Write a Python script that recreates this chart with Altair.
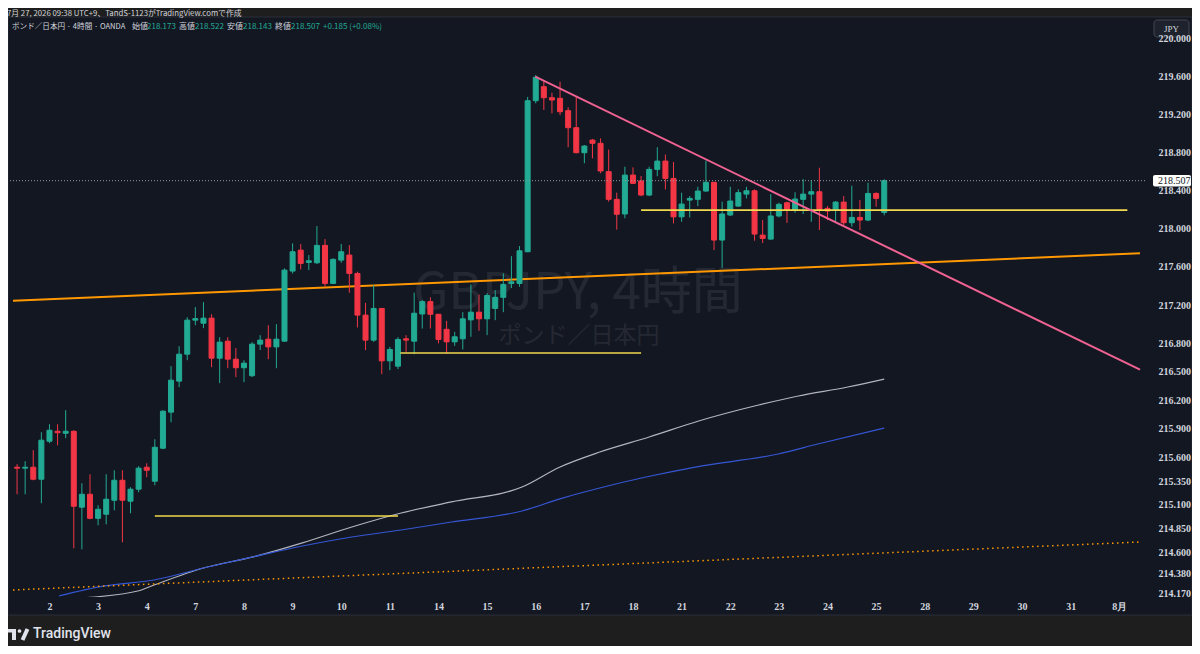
import altair as alt
import pandas as pd

# ---------------- data ----------------
opens = [215.495, 215.485, 215.495, 215.369, 215.768, 215.873, 215.852, 215.873, 215.075, 215.211,
         214.958, 215.001, 215.148, 215.358, 215.138, 215.264, 215.495, 215.348, 215.695, 216.074,
         216.400, 216.683, 217.041, 217.009, 217.062, 216.641, 216.820, 216.631, 216.541, 216.457,
         216.789, 216.841, 216.760, 216.820, 217.557, 217.777, 217.648, 217.644, 217.827, 217.427,
         217.672, 217.725, 217.532, 217.094, 216.831, 217.164, 216.613, 216.557, 216.845, 216.820,
         217.106, 217.236, 217.103, 216.945, 216.813, 216.845, 217.044, 217.125, 217.055, 217.164,
         217.281, 217.427, 217.427, 217.760, 219.348, 219.495, 219.379, 219.373, 219.243, 219.064,
         218.801, 218.934, 218.900, 218.602, 218.311, 218.157, 218.566, 218.504, 218.356, 218.626,
         218.713, 218.531, 218.127, 218.303, 218.311, 218.398, 218.490, 217.883, 218.146, 218.240,
         218.366, 218.401, 217.935, 217.893, 218.136, 218.275, 218.198, 218.311, 218.366, 218.391,
         218.216, 218.198, 218.282, 218.065, 218.121, 218.093, 218.373, 218.173]
highs = [215.527, 215.558, 215.674, 215.863, 215.947, 215.947, 216.095, 215.884, 215.327, 215.421,
         215.095, 215.421, 215.463, 215.463, 215.285, 215.506, 215.537, 215.789, 216.095, 216.557,
         216.767, 217.072, 217.178, 217.230, 217.104, 216.862, 216.862, 216.747, 216.620, 216.810,
         216.883, 216.988, 216.999, 217.585, 217.848, 217.841, 217.725, 218.030, 217.893, 217.690,
         217.841, 217.830, 217.550, 217.223, 217.409, 217.167, 216.760, 216.862, 216.883, 217.330,
         217.252, 217.281, 217.106, 217.034, 216.918, 217.125, 217.416, 217.310, 217.325, 217.357,
         217.533, 217.714, 217.820, 219.387, 219.618, 219.558, 219.432, 219.547, 219.278, 219.390,
         218.882, 218.945, 218.952, 218.834, 218.381, 218.654, 218.647, 218.556, 218.654, 218.858,
         218.782, 218.703, 218.381, 218.345, 218.443, 218.717, 218.490, 218.286, 218.443, 218.416,
         218.443, 218.416, 218.093, 218.366, 218.275, 218.286, 218.385, 218.524, 218.514, 218.643,
         218.240, 218.293, 218.345, 218.454, 218.303, 218.485, 218.385, 218.522]
lows = [215.211, 215.211, 215.358, 215.117, 215.747, 215.726, 215.800, 214.643, 214.632, 214.948,
        214.885, 214.895, 215.043, 214.706, 215.011, 215.232, 215.390, 215.306, 215.684, 215.968,
        216.337, 216.620, 216.988, 216.957, 216.547, 216.379, 216.536, 216.442, 216.389, 216.442,
        216.726, 216.631, 216.536, 216.817, 217.532, 217.574, 217.567, 217.630, 217.392, 217.420,
        217.644, 217.329, 216.964, 216.726, 216.813, 216.473, 216.515, 216.526, 216.708, 216.683,
        216.953, 216.953, 216.797, 216.690, 216.771, 216.733, 216.866, 216.929, 216.883, 217.041,
        217.125, 217.378, 217.392, 217.756, 219.320, 219.250, 219.215, 219.197, 218.858, 218.795,
        218.690, 218.742, 218.585, 218.286, 217.992, 218.112, 218.472, 218.345, 218.345, 218.554,
        218.415, 218.058, 218.075, 218.121, 218.240, 218.391, 217.777, 217.590, 218.136, 218.233,
        218.321, 217.876, 217.851, 217.890, 218.121, 218.062, 218.170, 218.157, 218.075, 217.988,
        218.093, 218.075, 218.040, 218.023, 217.988, 218.082, 218.233, 218.143]
closes = [215.485, 215.495, 215.369, 215.779, 215.884, 215.858, 215.873, 215.085, 215.211, 214.958,
          215.053, 215.159, 215.358, 215.148, 215.264, 215.485, 215.463, 215.705, 216.084, 216.410,
          216.683, 217.041, 217.057, 217.062, 216.641, 216.810, 216.631, 216.541, 216.589, 216.789,
          216.831, 216.760, 216.841, 217.567, 217.760, 217.637, 217.665, 217.827, 217.427, 217.680,
          217.760, 217.532, 217.094, 216.831, 217.164, 216.613, 216.733, 216.838, 216.831, 217.114,
          217.236, 217.103, 216.838, 216.813, 216.866, 217.055, 217.125, 217.055, 217.300, 217.281,
          217.417, 217.444, 217.770, 219.348, 219.594, 219.379, 219.355, 219.232, 219.064, 218.801,
          218.871, 218.900, 218.609, 218.311, 218.154, 218.566, 218.479, 218.356, 218.626, 218.713,
          218.531, 218.127, 218.261, 218.321, 218.398, 218.490, 217.883, 218.157, 218.293, 218.381,
          218.401, 217.946, 217.900, 218.136, 218.258, 218.198, 218.314, 218.366, 218.391, 218.205,
          218.188, 218.282, 218.065, 218.121, 218.093, 218.373, 218.321, 218.507]

# moving averages (bar index, price)
ma_slow_idx = [7.7, 14.9, 16.9, 23.0, 29.1, 35.2, 41.3, 47.4, 53.6, 62.3, 67.0, 71.9, 78.0, 84.1, 91.5, 96.4, 102.5, 107.0]
ma_slow_val = [214.12, 214.194, 214.257, 214.436, 214.552, 214.700, 214.867, 215.014, 215.130, 215.287,
               215.498, 215.655, 215.813, 215.981, 216.149, 216.244, 216.338, 216.422]
ma_blue_idx = [5.2, 10.8, 16.9, 23.0, 29.1, 35.2, 41.3, 47.4, 53.6, 62.3, 67.3, 71.9, 77.6, 83.7, 93.9, 98.8, 107.0]
ma_blue_val = [214.142, 214.247, 214.310, 214.436, 214.552, 214.667, 214.762, 214.835, 214.919, 215.035,
               215.171, 215.277, 215.392, 215.497, 215.634, 215.739, 215.907]

# drawn lines (bar index, price)
orange_idx = [-0.5, 138.56]
orange_val = [217.246, 217.744]
orange_dot_idx = [-0.5, 138.56]
orange_dot_val = [214.205, 214.709]
pink_idx = [63.95, 138.56]
pink_val = [219.600, 216.52]
yellow_start = [17.0, 47.3, 77.0]
yellow_end = [47.0, 77.0, 137.0]
yellow_val = [214.982, 216.696, 218.198]

day_ticks = [4, 10, 16, 22, 28, 34, 40, 46, 52, 58, 64, 70, 76, 82, 88, 94, 100, 106, 112, 118, 124, 130, 136]
day_labels = ["2", "3", "4", "7", "8", "9", "10", "11", "14", "15", "16", "17", "18", "21", "22", "23",
              "24", "25", "28", "29", "30", "31", "8月"]
price_ticks = [214.17, 214.38, 214.6, 214.85, 215.1, 215.35, 215.6, 215.9, 216.2, 216.5, 216.8,
               217.2, 217.6, 218.0, 218.4, 218.8, 219.2, 219.6, 220.0]

title_text = "7月 27, 2026 09:38 UTC+9、TandS-1123がTradingView.comで作成"
legend_parts = ["ポンド／日本円 · 4時間 · OANDA", "始値", "218.173", "高値", "218.522", "安値", "218.143",
                "終値", "218.507", "+0.185 (+0.08%)"]
legend_kind = ["label", "label", "value", "label", "value", "label", "value", "label", "value", "value"]
legend_x = [4, 124, 139, 171, 187, 219, 235, 267, 283, 315]

# ---------------- styling ----------------
PANE = "#131722"
OUTER = "#1e1e1e"
UP = "#22ab94"
DOWN = "#f23645"
TXT = "#d1d4dc"
LOGO = "#e0e3eb"
AXFONT = "Liberation Sans Narrow"
JPFONT = "Noto Sans CJK JP"

W, H = 1137, 580

n = len(opens)
candles = pd.DataFrame({"i": list(range(n)), "open": opens, "high": highs, "low": lows, "close": closes})
candles["dir"] = ["up" if c >= o else "down" for o, c in zip(opens, closes)]

label_expr = " : ".join([f"datum.value == {t} ? '{l}'" for t, l in zip(day_ticks, day_labels)]) + " : ''"

xs = alt.Scale(domain=[-0.5, 138.56], nice=False, zero=False)
ys = alt.Scale(domain=[214.131, 220.2275], nice=False, zero=False)
xaxis = alt.Axis(values=day_ticks, labelExpr=label_expr, grid=False, ticks=False, domain=False,
                 labelColor=TXT, labelFont=AXFONT, labelFontSize=10, labelFontWeight="bold",
                 labelPadding=4, title=None, zindex=1, labelOverlap=False, labelFlush=False)
yaxis = alt.Axis(values=price_ticks, format=".3f", orient="right", grid=False, ticks=False, domain=False,
                 labelColor=TXT, labelFont=AXFONT, labelFontSize=10, labelFontWeight="bold",
                 labelPadding=13, labelAlign="left",
                 title=None, zindex=1, labelOverlap=False, labelFlush=False)
cscale = alt.Scale(domain=["up", "down"], range=[UP, DOWN])


def X(field):
    return alt.X(field, scale=xs, axis=xaxis)


def Y(field):
    return alt.Y(field, scale=ys, axis=yaxis)


one = pd.DataFrame({"a": [0]})

pane = alt.Chart(one).mark_rect(color=PANE, stroke="#2a2e39", strokeWidth=1).encode(
    x=alt.value(0), x2=alt.value(1184), y=alt.value(0), y2=alt.value(598))

watermark = alt.Chart(one).mark_text(text="GBPJPY, 4時間", font=JPFONT, fontSize=51, color="#ffffff",
                                     opacity=0.07, align="center", baseline="middle").encode(
    x=alt.value(570), y=alt.value(277))
watermark2 = alt.Chart(one).mark_text(text="ポンド／日本円", font=JPFONT, fontSize=23, color="#ffffff",
                                      opacity=0.07, align="center", baseline="middle").encode(
    x=alt.value(571), y=alt.value(319))

wicks = alt.Chart(candles).mark_rule(strokeWidth=1).encode(
    x=X("i:Q"), y=Y("low:Q"), y2="high:Q",
    color=alt.Color("dir:N", scale=cscale, legend=None))
bodies = alt.Chart(candles).mark_bar(size=5, strokeWidth=1).encode(
    x=X("i:Q"), y=Y("open:Q"), y2="close:Q",
    color=alt.Color("dir:N", scale=cscale, legend=None),
    stroke=alt.Stroke("dir:N", scale=cscale, legend=None))


def line(idx, val, **kw):
    df = pd.DataFrame({"i": idx, "p": val})
    return alt.Chart(df).mark_line(clip=True, **kw).encode(x=X("i:Q"), y=Y("p:Q"))


ma_slow = line(ma_slow_idx, ma_slow_val, color="#b2b5be", strokeWidth=1.2, interpolate="monotone")
ma_blue = line(ma_blue_idx, ma_blue_val, color="#3556d4", strokeWidth=1.2, interpolate="monotone")
orange = line(orange_idx, orange_val, color="#ff9800", strokeWidth=2)
orange_dot = line(orange_dot_idx, orange_dot_val, color="#ff9800", strokeWidth=1.5, strokeDash=[1.5, 3.5])
pink = line(pink_idx, pink_val, color="#f06292", strokeWidth=2)

ydf = pd.DataFrame({"s": yellow_start, "e": yellow_end, "p": yellow_val})
yellow = alt.Chart(ydf).mark_rule(color="#f2d94e", strokeWidth=1.6).encode(
    x=X("s:Q"), x2="e:Q", y=Y("p:Q"))

last = closes[-1]
pdf = pd.DataFrame({"p": [last], "top": [last + 0.06], "bot": [last - 0.06], "t": [f"{last:.3f}"]})
price_line = alt.Chart(pdf).mark_rule(color="#9598a1", strokeDash=[1, 2], strokeWidth=1).encode(
    y=Y("p:Q"))
price_box = alt.Chart(pdf).mark_rect(color="#ffffff", cornerRadius=2).encode(
    x=alt.value(1145), x2=alt.value(1183), y=Y("top:Q"), y2="bot:Q")
price_txt = alt.Chart(pdf).mark_text(font=AXFONT, fontSize=10, color="#131722", align="left",
                                     baseline="middle").encode(
    x=alt.value(1150), y=Y("p:Q"), text="t:N")

jpy_box = alt.Chart(one).mark_rect(fill="#1e222d", stroke="#434651", strokeWidth=1, cornerRadius=3).encode(
    x=alt.value(1146), x2=alt.value(1181), y=alt.value(3), y2=alt.value(20))
jpy_txt = alt.Chart(one).mark_text(text="JPY", font=AXFONT, fontSize=9, color=TXT, align="center",
                                   baseline="middle").encode(x=alt.value(1163.5), y=alt.value(11.5))

title = alt.Chart(one).mark_text(text=title_text, font=JPFONT, fontSize=7.8, color=TXT, align="left",
                                 baseline="middle").encode(x=alt.value(-1), y=alt.value(-3))

legend_layers = []
for t, k, x in zip(legend_parts, legend_kind, legend_x):
    legend_layers.append(
        alt.Chart(one).mark_text(text=t, font=JPFONT, fontSize=(7.6 if x == legend_x[0] else 8),
                                 color=(UP if k == "value" else TXT),
                                 align="left", baseline="middle").encode(x=alt.value(x), y=alt.value(9.5)))

# TradingView logo mark (decoration)
logo_bar = alt.Chart(one).mark_rect(color=LOGO).encode(
    x=alt.value(0), x2=alt.value(8), y=alt.value(612), y2=alt.value(615.5))
logo_stem = alt.Chart(one).mark_rect(color=LOGO).encode(
    x=alt.value(4), x2=alt.value(8), y=alt.value(612), y2=alt.value(623))
logo_dot = alt.Chart(one).mark_point(filled=True, color=LOGO, opacity=1, size=14, shape="circle").encode(
    x=alt.value(11.5), y=alt.value(614))
logo_slash = alt.Chart(one).mark_rule(color=LOGO, strokeWidth=4).encode(
    x=alt.value(19.5), x2=alt.value(14.5), y=alt.value(612), y2=alt.value(623))
logo_txt = alt.Chart(one).mark_text(text="TradingView", font="Roboto", fontSize=14, fontWeight=500,
                                    color=LOGO, align="left", baseline="middle").encode(
    x=alt.value(25), y=alt.value(617))

chart = alt.layer(
    pane, watermark, watermark2, ma_slow, ma_blue, orange, orange_dot, wicks, bodies,
    yellow, pink, price_line, price_box, price_txt, jpy_box, jpy_txt, title, *legend_layers,
    logo_bar, logo_stem, logo_dot, logo_slash, logo_txt
).properties(
    width=W, height=H,
    autosize=alt.AutoSizeParams(type="none"),
    padding={"left": 0, "top": 9, "right": 47, "bottom": 49},
    background=OUTER,
).configure_view(stroke=None).configure_axis(labelOverlap=False)

chart.save("out.html", embed_options={"renderer": "svg", "actions": False})
